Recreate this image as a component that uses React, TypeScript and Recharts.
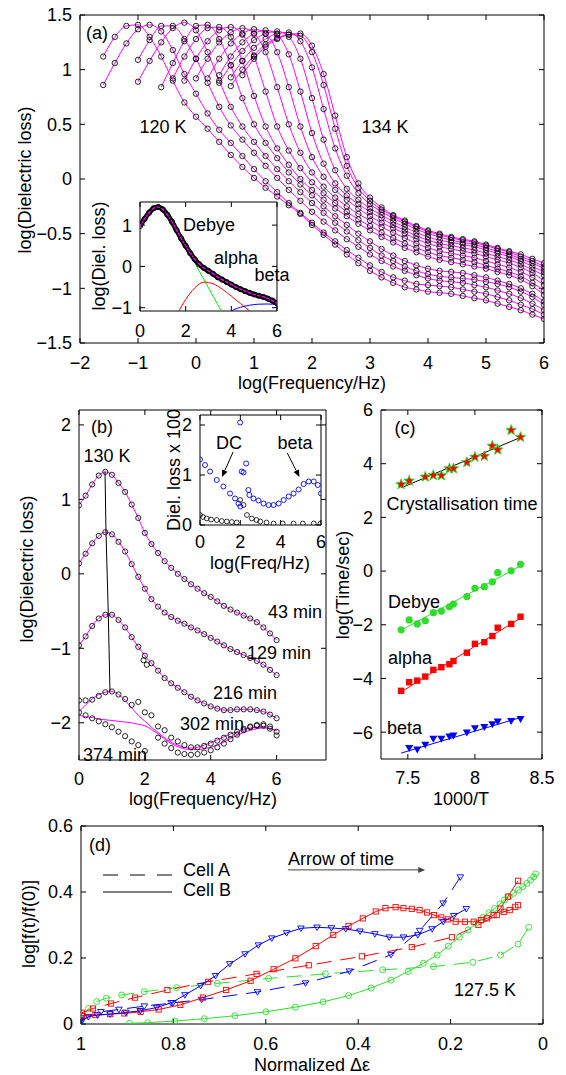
import React from 'react';
import { ComposedChart, Line, XAxis, YAxis, ReferenceLine, ReferenceArea } from 'recharts';

const FONT = '"Liberation Sans", Arial, Helvetica, sans-serif';
const MAG = '#ff00ff';
const GREEN = '#2edc2e';
const RED = '#ff0000';
const BLUE = '#0000ff';

// ---------- (a) loss spectra at 14 temperatures, 120 K .. 134 K
const FREQ_A = [-1.6, -1.4, -1.2, -1.0, -0.8, -0.6, -0.4, -0.2, 0, 0.2, 0.4, 0.6, 0.8, 1.0, 1.2, 1.4, 1.6, 1.8, 2.0, 2.2, 2.4, 2.6, 2.8, 3.0, 3.2, 3.4, 3.6, 3.8, 4.0, 4.2, 4.4, 4.6, 4.8, 5.0, 5.2, 5.4, 5.6, 5.8, 6.0];
const START_A = [-1.6, -1.6, -1.0, -1.0, -0.6, -0.4, -0.2, 0, 0.2, 0.4, 0.4, 0.6, 0.6, 0.8];
const LOSS_A1 = [1.12, 1.30, 1.40, 1.41, 1.30, 1.12, 0.90, 0.70, 0.57, 0.46, 0.34, 0.22, 0.11, 0.01, -0.08, -0.16, -0.24, -0.32, -0.42, -0.51, -0.60, -0.69, -0.77, -0.84, -0.90, -0.95, -0.99, -1.01, -1.03, -1.04, -1.05, -1.07, -1.09, -1.11, -1.14, -1.17, -1.20, -1.24, -1.28];
const LOSS_A2 = [0.86, 1.06, 1.24, 1.37, 1.41, 1.35, 1.18, 0.96, 0.78, 0.60, 0.45, 0.33, 0.21, 0.09, -0.02, -0.12, -0.22, -0.31, -0.40, -0.49, -0.57, -0.65, -0.72, -0.79, -0.85, -0.90, -0.93, -0.96, -0.97, -0.98, -0.99, -1.01, -1.03, -1.05, -1.08, -1.11, -1.15, -1.19, -1.24];
const LOSS_A3 = [1.09, 1.27, 1.40, 1.40, 1.28, 1.10, 0.88, 0.66, 0.49, 0.36, 0.24, 0.12, 0.01, -0.10, -0.20, -0.30, -0.39, -0.47, -0.55, -0.62, -0.69, -0.75, -0.80, -0.84, -0.88, -0.91, -0.93, -0.94, -0.95, -0.97, -0.99, -1.02, -1.05, -1.09, -1.14, -1.20];
const LOSS_A4 = [0.89, 1.08, 1.25, 1.38, 1.43, 1.36, 1.16, 0.90, 0.66, 0.48, 0.34, 0.21, 0.09, -0.02, -0.12, -0.22, -0.31, -0.40, -0.48, -0.56, -0.63, -0.70, -0.75, -0.80, -0.84, -0.87, -0.89, -0.90, -0.91, -0.92, -0.94, -0.96, -0.99, -1.03, -1.08, -1.15];
const LOSS_A5 = [0.84, 1.06, 1.26, 1.40, 1.41, 1.28, 1.04, 0.74, 0.50, 0.33, 0.19, 0.06, -0.05, -0.15, -0.25, -0.34, -0.42, -0.50, -0.57, -0.64, -0.70, -0.75, -0.79, -0.82, -0.84, -0.85, -0.86, -0.88, -0.90, -0.93, -0.96, -1.00, -1.05, -1.12];
const LOSS_A6 = [0.92, 1.12, 1.28, 1.38, 1.39, 1.30, 1.08, 0.76, 0.48, 0.28, 0.13, 0.0, -0.10, -0.19, -0.27, -0.34, -0.41, -0.47, -0.53, -0.58, -0.63, -0.67, -0.71, -0.74, -0.76, -0.78, -0.80, -0.82, -0.85, -0.88, -0.92, -0.98, -1.06];
const LOSS_A7 = [0.90, 1.10, 1.26, 1.36, 1.39, 1.32, 1.12, 0.80, 0.48, 0.26, 0.10, -0.03, -0.13, -0.22, -0.30, -0.37, -0.43, -0.49, -0.54, -0.59, -0.63, -0.67, -0.70, -0.72, -0.74, -0.76, -0.79, -0.82, -0.85, -0.89, -0.95, -1.02];
const LOSS_A8 = [0.92, 1.10, 1.25, 1.34, 1.38, 1.33, 1.16, 0.84, 0.50, 0.24, 0.06, -0.07, -0.17, -0.25, -0.32, -0.38, -0.44, -0.49, -0.54, -0.59, -0.63, -0.66, -0.68, -0.70, -0.72, -0.75, -0.78, -0.81, -0.85, -0.90, -0.97];
const LOSS_A9 = [0.92, 1.10, 1.24, 1.33, 1.37, 1.33, 1.16, 0.84, 0.48, 0.20, 0.02, -0.10, -0.19, -0.27, -0.34, -0.40, -0.45, -0.50, -0.55, -0.59, -0.62, -0.64, -0.66, -0.68, -0.71, -0.74, -0.77, -0.81, -0.86, -0.93];
const LOSS_A10 = [0.95, 1.12, 1.25, 1.33, 1.36, 1.32, 1.14, 0.80, 0.42, 0.14, -0.04, -0.15, -0.23, -0.30, -0.36, -0.42, -0.47, -0.52, -0.56, -0.59, -0.61, -0.63, -0.65, -0.68, -0.71, -0.74, -0.78, -0.83, -0.88];
const LOSS_A11 = [0.88, 1.04, 1.17, 1.27, 1.33, 1.35, 1.30, 1.10, 0.74, 0.36, 0.08, -0.09, -0.19, -0.27, -0.33, -0.39, -0.44, -0.49, -0.53, -0.56, -0.58, -0.60, -0.62, -0.65, -0.68, -0.71, -0.75, -0.80, -0.85];
const LOSS_A12 = [0.93, 1.08, 1.20, 1.28, 1.33, 1.34, 1.26, 1.02, 0.64, 0.28, 0.03, -0.13, -0.23, -0.30, -0.36, -0.41, -0.46, -0.50, -0.53, -0.56, -0.58, -0.60, -0.63, -0.66, -0.69, -0.73, -0.77, -0.82];
const LOSS_A13 = [0.85, 1.00, 1.13, 1.23, 1.29, 1.32, 1.31, 1.16, 0.86, 0.46, 0.12, -0.08, -0.20, -0.28, -0.34, -0.39, -0.44, -0.48, -0.51, -0.54, -0.56, -0.58, -0.61, -0.64, -0.67, -0.71, -0.75, -0.80];
const LOSS_A14 = [0.95, 1.10, 1.21, 1.28, 1.32, 1.33, 1.22, 0.96, 0.58, 0.20, -0.04, -0.17, -0.26, -0.33, -0.38, -0.43, -0.47, -0.50, -0.53, -0.55, -0.57, -0.60, -0.63, -0.66, -0.69, -0.73, -0.77];
const A_CURVES = [LOSS_A1, LOSS_A2, LOSS_A3, LOSS_A4, LOSS_A5, LOSS_A6, LOSS_A7, LOSS_A8, LOSS_A9, LOSS_A10, LOSS_A11, LOSS_A12, LOSS_A13, LOSS_A14];

// inset of (a): one spectrum and its three components
const FREQ_06 = [0, 0.2, 0.4, 0.6, 0.8, 1.0, 1.2, 1.4, 1.6, 1.8, 2.0, 2.2, 2.4, 2.6, 2.8, 3.0, 3.2, 3.4, 3.6, 3.8, 4.0, 4.2, 4.4, 4.6, 4.8, 5.0, 5.2, 5.4, 5.6, 5.8, 6.0];
const AIN_TOTAL = [0.98, 1.15, 1.30, 1.41, 1.44, 1.38, 1.25, 1.08, 0.88, 0.68, 0.50, 0.32, 0.17, 0.05, -0.04, -0.11, -0.18, -0.26, -0.32, -0.38, -0.44, -0.50, -0.55, -0.60, -0.64, -0.68, -0.71, -0.74, -0.78, -0.83, -0.89];
const AIN_DEBYE_X = [0, 0.4, 0.8, 1.2, 1.6, 2.0, 2.4, 2.8, 3.2, 3.6, 4.0];
const AIN_DEBYE_Y = [0.98, 1.30, 1.44, 1.25, 0.88, 0.48, 0.08, -0.32, -0.72, -1.12, -1.52];
const AIN_ALPHA_X = [1.4, 1.6, 2.0, 2.4, 2.8, 3.2, 3.6, 4.0, 4.4, 4.8, 5.2];
const AIN_ALPHA_Y = [-1.45, -1.2, -0.8, -0.52, -0.38, -0.42, -0.55, -0.72, -0.9, -1.08, -1.3];
const AIN_BETA_X = [3.6, 4.0, 4.4, 4.8, 5.2, 5.6, 6.0];
const AIN_BETA_Y = [-1.25, -1.08, -0.99, -0.94, -0.915, -0.91, -0.93];

// ---------- (b) 130 K, ageing times
const B_43 = [0.92, 1.05, 1.2, 1.32, 1.37, 1.33, 1.22, 1.1, 0.93, 0.75, 0.55, 0.4, 0.28, 0.17, 0.08, 0.0, -0.07, -0.14, -0.2, -0.26, -0.31, -0.37, -0.43, -0.48, -0.52, -0.56, -0.6, -0.65, -0.72, -0.8, -0.89];
const B_129 = [0.14, 0.27, 0.41, 0.51, 0.56, 0.53, 0.43, 0.3, 0.13, -0.04, -0.2, -0.34, -0.44, -0.52, -0.58, -0.63, -0.67, -0.72, -0.76, -0.81, -0.86, -0.91, -0.96, -1.01, -1.05, -1.09, -1.13, -1.17, -1.22, -1.29, -1.36];
const B_216 = [-0.96, -0.84, -0.7, -0.6, -0.55, -0.55, -0.62, -0.72, -0.85, -0.98, -1.1, -1.2, -1.3, -1.4, -1.47, -1.53, -1.59, -1.65, -1.7, -1.74, -1.78, -1.81, -1.83, -1.83, -1.82, -1.82, -1.82, -1.83, -1.85, -1.89, -1.94];
const B_216_OUT_X = [1.96, 2.06];
const B_216_OUT_Y = [-1.16, -1.22];
const B_302 = [-1.7, -1.7, -1.69, -1.64, -1.59, -1.58, -1.62, -1.68, -1.76, -1.72, -1.86, -1.9, -2.05, -2.1, -2.2, -2.25, -2.3, -2.33, -2.33, -2.31, -2.28, -2.24, -2.2, -2.16, -2.12, -2.08, -2.05, -2.04, -2.04, -2.08, -2.17];
const B_302_FIT = [-1.85, -1.76, -1.68, -1.62, -1.59, -1.58, -1.62, -1.7, -1.8, -1.9, -1.98, -2.06, -2.13, -2.2, -2.26, -2.3, -2.33, -2.34, -2.33, -2.3, -2.27, -2.23, -2.19, -2.15, -2.12, -2.09, -2.07, -2.06, -2.06, -2.08, -2.11];
const B_374 = [-1.86, -1.9, -1.94, -1.98, -2.02, -2.06, -2.12, -2.18, -2.25, -2.3, -2.38, null, -2.2, -2.28, -2.34, -2.4, -2.42, -2.43, -2.42, -2.4, -2.37, -2.33, -2.28, -2.22, -2.16, -2.1, -2.06, -2.03, -2.02, -2.05, -2.12];
const B_374_FIT = [-1.9, -1.92, -1.93, -1.95, -1.96, -1.97, -1.98, -1.99, -2.0, -2.02, -2.04, -2.09, -2.15, -2.22, -2.28, -2.32, -2.35, -2.36, -2.36, -2.35, -2.33, -2.3, -2.26, -2.21, -2.17, -2.13, -2.1, -2.08, -2.07, -2.08, -2.1];
const B_PEAK_X = [0.79, 0.82, 0.89, 0.94];
const B_PEAK_Y = [1.37, 0.56, -0.54, -1.58];

// inset of (b)
const BIN_BLUE_X = [0, 0.25, 0.5, 0.83, 1.16, 1.49, 1.74, 1.91, 2.0, 1.99, 2.07, 2.16, 2.29, 2.4, 2.45, 2.65, 2.9, 3.15, 3.4, 3.65, 3.9, 4.15, 4.4, 4.64, 4.89, 5.14, 5.39, 5.64, 5.84, 6.0];
const BIN_BLUE_Y = [1.31, 1.2, 1.07, 0.9, 0.77, 0.63, 0.53, 0.43, 0.37, 2.05, 1.07, 1.05, 1.23, 0.7, 0.6, 0.53, 0.49, 0.43, 0.4, 0.4, 0.43, 0.5, 0.57, 0.63, 0.71, 0.82, 0.87, 0.87, 0.8, 0.63];
const BIN_BLACK_X = [0, 0.15, 0.33, 0.55, 0.83, 1.08, 1.33, 1.58, 1.82, 1.99, 2.16, 2.33, 2.57, 2.8, 2.99, 3.3, 3.65, 4.1, 4.64, 5.1, 5.64, 5.97];
const BIN_BLACK_Y = [0.2, 0.16, 0.13, 0.11, 0.1, 0.08, 0.07, 0.06, 0.05, 0.5, 0.4, 0.2, 0.13, 0.1, 0.07, 0.05, 0.03, 0.03, 0.03, 0.03, 0.03, 0.03];

// ---------- (c) Arrhenius plot
const INV_T = [7.45, 7.51, 7.57, 7.63, 7.69, 7.75, 7.81, 7.84, 7.94, 8.0, 8.07, 8.13, 8.17, 8.27, 8.34];
const T_CRYST = [3.23, 3.36, null, 3.51, 3.57, 3.56, 3.82, 3.82, 4.05, 4.25, 4.28, 4.66, 4.52, 5.25, 4.99];
const T_DEBYE = [-2.19, -1.82, -1.97, -1.85, -1.55, -1.49, -1.33, -1.23, -0.95, -0.64, -0.58, -0.4, -0.06, 0.01, 0.25];
const T_ALPHA = [-4.46, -4.14, -4.08, -3.93, -3.68, -3.58, -3.47, -3.35, -3.04, -2.71, -2.65, -2.42, -2.11, -1.97, -1.7];
const T_BETA = [null, -6.59, -6.65, -6.47, -6.25, -6.25, -6.16, -6.12, -6.01, -5.85, -5.81, -5.71, -5.6, -5.58, -5.51];
const FIT_X = [7.45, 8.35];
const FIT_CRYST = [3.1, 5.0];
const FIT_DEBYE = [-2.2, 0.22];
const FIT_ALPHA = [-4.5, -1.72];
const FIT_BETA = [-6.78, -5.44];

// ---------- (d) normalized strength
const D_A_GREEN_X = [0.999, 0.984, 0.966, 0.945, 0.912, 0.863, 0.793, 0.705, 0.594, 0.471, 0.347, 0.237, 0.152, 0.092, 0.054, 0.031];
const D_A_GREEN_Y = [0.012, 0.047, 0.068, 0.078, 0.088, 0.098, 0.11, 0.123, 0.138, 0.152, 0.164, 0.174, 0.187, 0.209, 0.242, 0.293];
const D_B_GREEN_X = [0.895, 0.856, 0.797, 0.733, 0.667, 0.6, 0.536, 0.476, 0.421, 0.372, 0.329, 0.292, 0.259, 0.229, 0.205, 0.181, 0.162, 0.145, 0.13, 0.117, 0.105, 0.093, 0.083, 0.073, 0.064, 0.053, 0.044, 0.035, 0.027, 0.02, 0.016];
const D_B_GREEN_Y = [0.002, 0.004, 0.009, 0.016, 0.025, 0.037, 0.051, 0.067, 0.086, 0.109, 0.133, 0.159, 0.184, 0.209, 0.236, 0.263, 0.285, 0.305, 0.323, 0.337, 0.35, 0.364, 0.376, 0.386, 0.396, 0.406, 0.416, 0.426, 0.436, 0.446, 0.455];
const D_A_RED_X = [0.998, 0.974, 0.935, 0.883, 0.813, 0.725, 0.62, 0.507, 0.392, 0.284, 0.197, 0.14, 0.1, 0.085, 0.072, 0.06, 0.054];
const D_A_RED_Y = [0.034, 0.047, 0.062, 0.08, 0.103, 0.128, 0.152, 0.178, 0.205, 0.233, 0.263, 0.3, 0.33, 0.34, 0.345, 0.355, 0.36];
const D_B_RED_X = [0.998, 0.969, 0.937, 0.906, 0.871, 0.832, 0.785, 0.736, 0.686, 0.633, 0.583, 0.536, 0.492, 0.454, 0.421, 0.39, 0.362, 0.341, 0.319, 0.302, 0.284, 0.267, 0.251, 0.236, 0.22, 0.206, 0.189, 0.169, 0.15, 0.134, 0.121, 0.107, 0.092, 0.076, 0.054];
const D_B_RED_Y = [0.024, 0.027, 0.03, 0.032, 0.037, 0.044, 0.058, 0.08, 0.103, 0.131, 0.166, 0.199, 0.236, 0.27, 0.297, 0.32, 0.341, 0.351, 0.354, 0.351, 0.349, 0.345, 0.338, 0.33, 0.323, 0.317, 0.31, 0.31, 0.31, 0.315, 0.32, 0.33, 0.35, 0.386, 0.434];
const D_A_BLUE_X = [1.0, 0.957, 0.918, 0.863, 0.801, 0.739, 0.618, 0.514, 0.419, 0.329, 0.267, 0.216, 0.179];
const D_A_BLUE_Y = [0.012, 0.037, 0.044, 0.054, 0.064, 0.074, 0.097, 0.124, 0.16, 0.21, 0.283, 0.366, 0.445];
const D_B_BLUE_X = [0.999, 0.984, 0.964, 0.937, 0.903, 0.872, 0.836, 0.805, 0.775, 0.741, 0.709, 0.678, 0.645, 0.616, 0.587, 0.555, 0.524, 0.489, 0.458, 0.427, 0.396, 0.364, 0.333, 0.302, 0.271, 0.24, 0.216, 0.193, 0.166];
const D_B_BLUE_Y = [0.008, 0.022, 0.027, 0.03, 0.035, 0.04, 0.05, 0.064, 0.088, 0.116, 0.146, 0.182, 0.212, 0.239, 0.26, 0.276, 0.29, 0.293, 0.291, 0.288, 0.281, 0.273, 0.263, 0.263, 0.27, 0.288, 0.31, 0.328, 0.349];

// ---------- helpers
const pts = (xs: number[], ys: (number | null)[]) =>
  xs.map((x, i) => ({ x, y: ys[i] })).filter((d) => d.y != null);

const fmt = (v: number) => (v < 0 ? '\u2212' + Math.abs(v) : String(v));
const tickFont = { fill: '#000', fontSize: 18, fontFamily: FONT };

// axes carry the labels only; frame and inward ticks are drawn in data space
function box(xd: number[], xt: number[], yd: number[], yt: number[], xh: number, yw: number,
  pw: number, ph: number, rev = false, xm = 13) {
  const dx = (5 * (xd[1] - xd[0])) / pw;
  const dy = (5 * (yd[1] - yd[0])) / ph;
  const els: React.ReactNode[] = [
    <XAxis key="xb" type="number" dataKey="x" domain={xd} ticks={xt} interval={0} allowDataOverflow reversed={rev}
      height={xh} axisLine={false} tickLine={false} tickSize={0} tickMargin={xm} tick={tickFont} tickFormatter={fmt} />,
    <YAxis key="yl" type="number" domain={yd} ticks={yt} interval={0} allowDataOverflow width={yw}
      axisLine={false} tickLine={false} tickSize={0} tickMargin={8} tick={tickFont} tickFormatter={fmt} />,
  ];
  xt.forEach((t, i) => {
    els.push(<ReferenceLine key={'xb' + i} segment={[{ x: t, y: yd[0] }, { x: t, y: yd[0] + dy }]} stroke="#000" ifOverflow="visible" />);
    els.push(<ReferenceLine key={'xt' + i} segment={[{ x: t, y: yd[1] }, { x: t, y: yd[1] - dy }]} stroke="#000" ifOverflow="visible" />);
  });
  yt.forEach((t, i) => {
    els.push(<ReferenceLine key={'yl' + i} segment={[{ x: xd[0], y: t }, { x: xd[0] + dx, y: t }]} stroke="#000" ifOverflow="visible" />);
    els.push(<ReferenceLine key={'yr' + i} segment={[{ x: xd[1], y: t }, { x: xd[1] - dx, y: t }]} stroke="#000" ifOverflow="visible" />);
  });
  els.push(<ReferenceArea key="frame" x1={xd[0]} x2={xd[1]} y1={yd[0]} y2={yd[1]} fill="none" fillOpacity={0} stroke="#000" strokeWidth={1} ifOverflow="visible" />);
  return els;
}

const ring = (color: string, r = 2.7, sw = 0.9) => (p: any) =>
  <circle key={p.index} cx={p.cx} cy={p.cy} r={r} fill="none" stroke={color} strokeWidth={sw} />;
const hollowSquare = (p: any) =>
  <rect key={p.index} x={p.cx - 2.6} y={p.cy - 2.6} width={5.2} height={5.2} fill="none" stroke={RED} strokeWidth={0.9} />;
const hollowTri = (p: any) =>
  <polygon key={p.index} points={`${p.cx - 3.3},${p.cy - 2.3} ${p.cx + 3.3},${p.cy - 2.3} ${p.cx},${p.cy + 3.2}`} fill="none" stroke={BLUE} strokeWidth={0.9} />;

const star = (p: any) => {
  const v: string[] = [];
  for (let k = 0; k < 10; k++) {
    const a = -Math.PI / 2 + (k * Math.PI) / 5;
    const r = k % 2 === 0 ? 5.5 : 2.3;
    v.push(`${p.cx + r * Math.cos(a)},${p.cy + r * Math.sin(a)}`);
  }
  return <polygon key={p.index} points={v.join(' ')} fill={RED} stroke={GREEN} strokeWidth={0.9} />;
};
const dotFill = (p: any) => <circle key={p.index} cx={p.cx} cy={p.cy} r={3.6} fill={GREEN} />;
const squareFill = (p: any) => <rect key={p.index} x={p.cx - 3.2} y={p.cy - 3.2} width={6.4} height={6.4} fill={RED} />;
const triFill = (p: any) =>
  <polygon key={p.index} points={`${p.cx - 4},${p.cy - 3} ${p.cx + 4},${p.cy - 3} ${p.cx},${p.cy + 4}`} fill={BLUE} />;

function ArrowShape(p: any) {
  const { x1, y1, x2, y2 } = p;
  const ang = Math.atan2(y2 - y1, x2 - x1);
  const bx = x2 - 7 * Math.cos(ang);
  const by = y2 - 7 * Math.sin(ang);
  const ox = -Math.sin(ang) * 3;
  const oy = Math.cos(ang) * 3;
  return (
    <g>
      <line x1={x1} y1={y1} x2={bx} y2={by} stroke={p.stroke || '#000'} strokeWidth={1} />
      <polygon points={`${x2},${y2} ${bx + ox},${by + oy} ${bx - ox},${by - oy}`} fill={p.stroke || '#000'} />
    </g>
  );
}

const Place = ({ x, y, children }: { x: number; y: number; children: React.ReactNode }) => (
  <div style={{ position: 'absolute', left: x, top: y }}>{children}</div>
);

function PanelA() {
  const series = A_CURVES.map((vals, k) => {
    const i0 = FREQ_A.indexOf(START_A[k]);
    return pts(FREQ_A.slice(i0, i0 + vals.length), vals);
  });
  return (
    <ComposedChart width={566} height={400} margin={{ top: 15, right: 22, bottom: 17, left: 30 }}>
      {box([-2, 6], [-2, -1, 0, 1, 2, 3, 4, 5, 6], [-1.5, 1.5], [-1.5, -1, -0.5, 0, 0.5, 1, 1.5], 40, 50, 464, 328)}
      {series.map((d, k) => (
        <Line key={'o' + k} data={d} dataKey="y" stroke="none" dot={ring('#000', 2.7, 0.85)} isAnimationActive={false} />
      ))}
      {series.map((d, k) => (
        <Line key={'m' + k} data={d} dataKey="y" type="monotone" stroke={MAG} strokeWidth={1} dot={false} isAnimationActive={false} />
      ))}
    </ComposedChart>
  );
}

function InsetA() {
  const total = pts(FREQ_06, AIN_TOTAL);
  return (
    <ComposedChart width={200} height={160} margin={{ top: 12, right: 13, bottom: 14, left: 20 }}>
      {box([0, 6], [0, 2, 4, 6], [-1.08, 1.56], [-1, 0, 1], 25, 30, 137, 109)}
      <Line data={pts(AIN_DEBYE_X, AIN_DEBYE_Y)} dataKey="y" type="monotone" stroke="#00ee00" strokeWidth={1} dot={false} isAnimationActive={false} />
      <Line data={pts(AIN_ALPHA_X, AIN_ALPHA_Y)} dataKey="y" type="monotone" stroke={RED} strokeWidth={1} dot={false} isAnimationActive={false} />
      <Line data={pts(AIN_BETA_X, AIN_BETA_Y)} dataKey="y" type="monotone" stroke={BLUE} strokeWidth={1} dot={false} isAnimationActive={false} />
      <Line data={total} dataKey="y" type="monotone" stroke="#000" strokeWidth={5} dot={ring('#000', 2.6, 1)} isAnimationActive={false} />
      <Line data={total} dataKey="y" type="monotone" stroke={MAG} strokeWidth={1.3} dot={false} isAnimationActive={false} />
    </ComposedChart>
  );
}

function PanelB() {
  const data = [B_43, B_129, B_216, B_302, B_374].map((v) => pts(FREQ_06, v));
  const fits = [B_43, B_129, B_216, B_302_FIT, B_374_FIT].map((v) => pts(FREQ_06, v));
  return (
    <ComposedChart width={340} height={420} margin={{ top: 15, right: 14, bottom: 15, left: 29 }}>
      {box([0, 7.5], [0, 2, 4, 6], [-2.5, 2.2], [-2, -1, 0, 1, 2], 40, 50, 247, 350, false, 12)}
      {data.map((d, k) => (
        <Line key={'o' + k} data={d} dataKey="y" stroke="none" dot={ring('#000', 2.6, 0.85)} isAnimationActive={false} />
      ))}
      <Line data={pts(B_216_OUT_X, B_216_OUT_Y)} dataKey="y" stroke="none" dot={ring('#000', 2.6, 0.85)} isAnimationActive={false} />
      {fits.map((d, k) => (
        <Line key={'m' + k} data={d} dataKey="y" type="monotone" stroke={MAG} strokeWidth={1} dot={false} isAnimationActive={false} />
      ))}
      <Line data={pts(B_PEAK_X, B_PEAK_Y)} dataKey="y" stroke="#000" strokeWidth={1} dot={false} isAnimationActive={false} />
    </ComposedChart>
  );
}

function InsetB() {
  return (
    <ComposedChart width={170} height={160} margin={{ top: 10, right: 9, bottom: 15, left: 15 }}>
      {box([0, 6], [0, 2, 4, 6], [0, 2.2], [0, 1, 2], 25, 25, 121, 110, false, 10)}
      <Line data={pts(BIN_BLACK_X, BIN_BLACK_Y)} dataKey="y" stroke="none" dot={ring('#000', 2.4, 0.8)} isAnimationActive={false} />
      <Line data={pts(BIN_BLUE_X, BIN_BLUE_Y)} dataKey="y" stroke="none" dot={ring(BLUE, 2.5, 0.9)} isAnimationActive={false} />
      <ReferenceLine segment={[{ x: 1.64, y: 1.46 }, { x: 1.09, y: 0.96 }]} ifOverflow="visible" stroke="#000" shape={ArrowShape} />
      <ReferenceLine segment={[{ x: 4.33, y: 1.44 }, { x: 4.93, y: 0.96 }]} ifOverflow="visible" stroke="#000" shape={ArrowShape} />
    </ComposedChart>
  );
}

function PanelC() {
  return (
    <ComposedChart width={226} height={420} margin={{ top: 15, right: 24, bottom: 16, left: 11 }}>
      {box([7.3, 8.5], [7.5, 8, 8.5], [-7, 6], [-6, -4, -2, 0, 2, 4, 6], 40, 30, 161, 349, false, 12)}
      <Line data={pts(FIT_X, FIT_CRYST)} dataKey="y" stroke="#000" strokeWidth={1} dot={false} isAnimationActive={false} />
      <Line data={pts(FIT_X, FIT_DEBYE)} dataKey="y" stroke={GREEN} strokeWidth={1} dot={false} isAnimationActive={false} />
      <Line data={pts(FIT_X, FIT_ALPHA)} dataKey="y" stroke={RED} strokeWidth={1} dot={false} isAnimationActive={false} />
      <Line data={pts(FIT_X, FIT_BETA)} dataKey="y" stroke={BLUE} strokeWidth={1} dot={false} isAnimationActive={false} />
      <Line data={pts(INV_T, T_CRYST)} dataKey="y" stroke="none" dot={star} isAnimationActive={false} />
      <Line data={pts(INV_T, T_DEBYE)} dataKey="y" stroke="none" dot={dotFill} isAnimationActive={false} />
      <Line data={pts(INV_T, T_ALPHA)} dataKey="y" stroke="none" dot={squareFill} isAnimationActive={false} />
      <Line data={pts(INV_T, T_BETA)} dataKey="y" stroke="none" dot={triFill} isAnimationActive={false} />
    </ComposedChart>
  );
}

function PanelD() {
  const dash = '15 9';
  return (
    <ComposedChart width={566} height={265} margin={{ top: 16, right: 23, bottom: 11, left: 31 }}>
      {box([0, 1], [0, 0.2, 0.4, 0.6, 0.8, 1], [0, 0.6], [0, 0.2, 0.4, 0.6], 40, 50, 462, 198, true)}
      <Line data={pts(D_A_GREEN_X, D_A_GREEN_Y)} dataKey="y" stroke={GREEN} strokeWidth={1} strokeDasharray={dash} dot={ring(GREEN, 3, 0.9)} isAnimationActive={false} />
      <Line data={pts(D_A_RED_X, D_A_RED_Y)} dataKey="y" stroke={RED} strokeWidth={1} strokeDasharray={dash} dot={hollowSquare} isAnimationActive={false} />
      <Line data={pts(D_A_BLUE_X, D_A_BLUE_Y)} dataKey="y" stroke={BLUE} strokeWidth={1} strokeDasharray={dash} dot={hollowTri} isAnimationActive={false} />
      <Line data={pts(D_B_GREEN_X, D_B_GREEN_Y)} dataKey="y" stroke={GREEN} strokeWidth={1} dot={ring(GREEN, 3, 0.9)} isAnimationActive={false} />
      <Line data={pts(D_B_RED_X, D_B_RED_Y)} dataKey="y" stroke={RED} strokeWidth={1} dot={hollowSquare} isAnimationActive={false} />
      <Line data={pts(D_B_BLUE_X, D_B_BLUE_Y)} dataKey="y" stroke={BLUE} strokeWidth={1} dot={hollowTri} isAnimationActive={false} />
      <ReferenceLine segment={[{ x: 0.552, y: 0.467 }, { x: 0.255, y: 0.467 }]} ifOverflow="visible" stroke="#444" shape={ArrowShape} />
    </ComposedChart>
  );
}

const T = ({ x, y, children, anchor = 'middle', rot = 0 }: { x: number; y: number; children: React.ReactNode; anchor?: string; rot?: number }) => (
  <text x={x} y={y} textAnchor={anchor as any} dominantBaseline="central" fontSize={18} fontFamily={FONT} fill="#000"
    transform={rot ? `rotate(${rot} ${x} ${y})` : undefined}>{children}</text>
);

function Overlay() {
  return (
    <svg width={566} height={1075} style={{ position: 'absolute', left: 0, top: 0, pointerEvents: 'none' }}>
      {/* (a) */}
      <T x={97} y={33}>(a)</T>
      <T x={163} y={127}>120 K</T>
      <T x={385} y={127}>134 K</T>
      <T x={209} y={225}>Debye</T>
      <T x={236} y={258}>alpha</T>
      <T x={272} y={275}>beta</T>
      <T x={99} y={256} rot={-90}>log(Diel. loss)</T>
      <T x={312} y={383}>log(Frequency/Hz)</T>
      <T x={25} y={180} rot={-90}>log(Dielectric loss)</T>
      {/* (b) */}
      <T x={102} y={427}>(b)</T>
      <T x={107} y={456}>130 K</T>
      <T x={295} y={612}>43 min</T>
      <T x={279} y={653}>129 min</T>
      <T x={245} y={693}>216 min</T>
      <T x={212} y={724}>302 min</T>
      <T x={115} y={755}>374 min</T>
      <T x={229} y={443}>DC</T>
      <T x={295} y={443}>beta</T>
      <T x={174} y={470} rot={-90}>Diel. loss x 100</T>
      <T x={260} y={563}>log(Freq/Hz)</T>
      <T x={203} y={799}>log(Frequency/Hz)</T>
      <T x={27} y={569} rot={-90}>log(Dielectric loss)</T>
      {/* (c) */}
      <T x={405} y={428}>(c)</T>
      <T x={462} y={504}>Crystallisation time</T>
      <T x={388} y={602} anchor="start">Debye</T>
      <T x={388} y={658} anchor="start">alpha</T>
      <T x={387} y={728} anchor="start">beta</T>
      <T x={343} y={585} rot={-90}>log(Time/sec)</T>
      <T x={461} y={799}>1000/T</T>
      {/* (d) */}
      <T x={100} y={845}>(d)</T>
      <line x1={103} y1={875} x2={172} y2={875} stroke="#000" strokeWidth={1} strokeDasharray="15 12" />
      <line x1={103} y1={892} x2={172} y2={892} stroke="#000" strokeWidth={1} />
      <T x={183} y={870} anchor="start">Cell A</T>
      <T x={183} y={890} anchor="start">Cell B</T>
      <T x={288} y={859} anchor="start">Arrow of time</T>
      <T x={485} y={990}>127.5 K</T>
      <T x={312} y={1065}>Normalized Δε</T>
      <T x={29} y={924} rot={-90}>log[f(t)/f(0)]</T>
    </svg>
  );
}

export default function App() {
  return (
    <div style={{ position: 'absolute', left: 0, top: 0, width: 566, height: 1075, background: '#fff', fontFamily: FONT }}>
      <Place x={0} y={0}><PanelA /></Place>
      <div style={{ position: 'absolute', left: 140, top: 202, width: 137, height: 109, background: '#fff' }} />
      <Place x={90} y={190}><InsetA /></Place>
      <Place x={0} y={395}><PanelB /></Place>
      <div style={{ position: 'absolute', left: 200, top: 415, width: 121, height: 110, background: '#fff' }} />
      <Place x={160} y={405}><InsetB /></Place>
      <Place x={340} y={395}><PanelC /></Place>
      <Place x={0} y={810}><PanelD /></Place>
      <Overlay />
    </div>
  );
}
